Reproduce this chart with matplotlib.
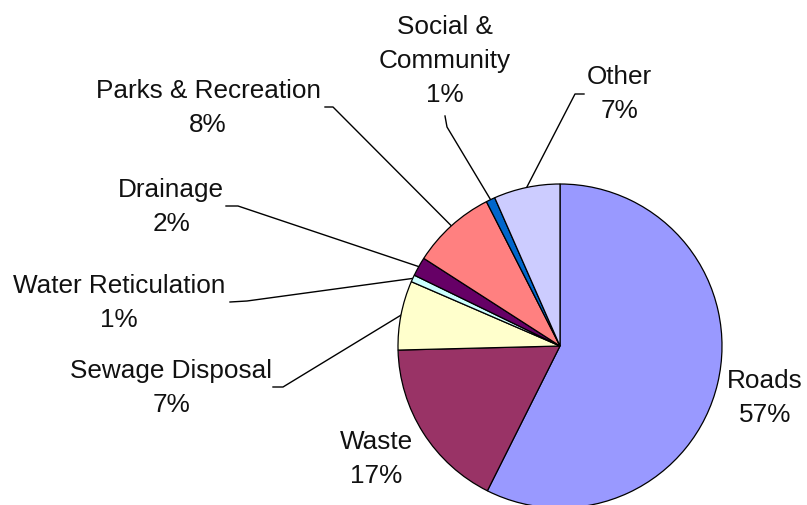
import matplotlib
matplotlib.use("Agg")
import matplotlib.pyplot as plt
import numpy as np

categories = ["Roads", "Waste", "Sewage Disposal", "Water Reticulation",
              "Drainage", "Parks & Recreation", "Social &\nCommunity", "Other"]
values = [57.4, 17.2, 6.9, 0.7, 1.9, 8.4, 0.9, 6.6]
pct_labels = ["57%", "17%", "7%", "1%", "2%", "8%", "1%", "7%"]
colors = ["#9999FF", "#993366", "#FFFFCC", "#CCFFFF",
          "#660066", "#FF8080", "#0066CC", "#CCCCFF"]

W, H = 807, 506
fig = plt.figure(figsize=(W / 100, H / 100), dpi=100)
ax = fig.add_axes([0, 0, 1, 1])

cx, cy, r = 560, H - 347, 162
wedges, _ = ax.pie(values, colors=colors, startangle=90, counterclock=False,
                   center=(cx, cy), radius=r, frame=True,
                   wedgeprops=dict(edgecolor="black", linewidth=0.9))
ax.set_xlim(0, W)
ax.set_ylim(0, H)
ax.set_aspect("equal")
ax.axis("off")

# layout: label centre (pixel, y-down), leader polyline start & elbow (or None)
layout = {
    "Roads": ((765, 398), None),
    "Waste": ((376, 459), None),
    "Sewage Disposal": ((171, 388), [(273, 388), (283, 388)]),
    "Water Reticulation": ((119, 303), [(230, 303), (247, 302)]),
    "Drainage": ((171, 207), [(226, 207), (238, 207)]),
    "Parks & Recreation": ((208, 108), [(325, 108), (333, 108)]),
    "Social &\nCommunity": ((445, 61), [(445, 117), (447, 128)]),
    "Other": ((619, 94), [(584, 95), (575, 95)]),
}

font = dict(family=["Liberation Sans", "DejaVu Sans"], size=18.8, color="#111111")
for w, cat, pl in zip(wedges, categories, pct_labels):
    (lx, ly), leader = layout[cat]
    ax.text(lx, H - ly, f"{cat}\n{pl}", ha="center", va="center",
            linespacing=1.52, **font)
    if leader is not None:
        th = np.deg2rad((w.theta1 + w.theta2) / 2)
        ex, ey = cx + r * np.cos(th), cy + r * np.sin(th)
        xs = [p[0] for p in leader] + [ex]
        ys = [H - p[1] for p in leader] + [ey]
        ax.plot(xs, ys, color="black", linewidth=1.0, zorder=0.5)

fig.savefig("out.png", dpi=100)
